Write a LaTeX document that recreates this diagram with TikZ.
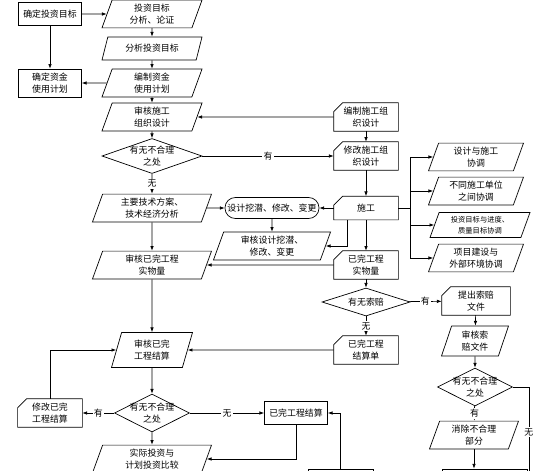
\documentclass[tikz,border=0pt]{standalone}
\usepackage{fontspec}
\newfontfamily\zhfont{Noto Sans CJK SC}
\usepackage{tikz}
\usetikzlibrary{shapes.geometric, arrows.meta, calc}

\begin{document}
\begin{tikzpicture}[
        x=0.03cm, y=-0.03cm, line width=0.6pt,
        every node/.style={font=\zhfont\fontsize{7.6}{10}\selectfont, align=center},
        box/.style={rectangle, draw, minimum width=1.89cm, minimum height=0.69cm},
        io/.style={trapezium, trapezium left angle=70, trapezium right angle=110, trapezium stretches body, draw, minimum width=3cm, minimum height=0.69cm},
        xt/.style={io, minimum width=2.85cm, minimum height=0.7cm},
        card/.style={rectangle, minimum width=1.92cm, minimum height=0.72cm},
        dec/.style={diamond, draw, aspect=2, inner xsep=-2pt, inner ysep=-3pt},
        term/.style={rectangle, rounded corners=0.31cm, draw, minimum width=2.82cm, minimum height=0.63cm, inner xsep=1pt},
        arr/.style={-{Latex[length=4pt, width=3pt]}},
        lbl/.style={fill=white, inner sep=1pt}
    ]
        \useasboundingbox (0,0) rectangle (560,470);
        \clip (0,0) rectangle (560,470);

        % left column
        \node[box] (qdmb) at (50,14) {确定投资目标};
        \node[box] (qdzj) at (50,83) {确定资金\\使用计划};
        \node[card, minimum height=0.69cm] (xgjs) at (50,413) {修改已完\\工程结算};

        % main column
        \node[io] (tzmb) at (152,14) {投资目标\\分析、论证};
        \node[io] (fxmb) at (152,48.5) {分析投资目标};
        \node[io, minimum height=0.72cm] (bzzj) at (152,83) {编制资金\\使用计划};
        \node[io] (shsg) at (152,117) {审核施工\\组织设计};
        \node[dec, minimum width=3cm, minimum height=1.05cm] (pd1) at (152,156) {有无不合理\\之处};
        \node[io, minimum width=3.57cm] (jsfa) at (152,208) {主要技术方案、\\技术经济分析};
        \node[io, minimum width=3.57cm] (shsw) at (152,265) {审核已完工程\\实物量};
        \node[io, minimum width=2.43cm, minimum height=1.05cm] (shjs) at (152,350) {审核已完\\工程结算};
        \node[dec, minimum width=2.25cm, minimum height=1.14cm] (pd2) at (152,413) {有无不合理\\之处};
        \node[io, minimum width=3.57cm, minimum height=0.72cm] (bjtz) at (152,459) {实际投资与\\计划投资比较};

        % middle
        \node[term] (wqbg) at (272,208) {设计挖潜、修改、变更};
        \node[io, minimum width=3.51cm, minimum height=0.66cm] (shwq) at (272,246) {审核设计挖潜、\\修改、变更};
        \node[box] (ywjs) at (296,413) {已完工程结算};
        \node[box, minimum width=1.95cm, minimum height=1.26cm] (xyb1) at (340.5,490) {};

        % construction column
        \node[card, minimum height=0.78cm] (bzsg) at (366,117) {编制施工组\\织设计};
        \node[card, minimum height=0.78cm] (xgsg) at (366,156) {修改施工组\\织设计};
        \node[card, minimum height=0.69cm] (sg) at (366,208) {施工};
        \node[card] (ywsw) at (366,265) {已完工程\\实物量};
        \node[dec, minimum width=2.64cm, minimum height=0.84cm] (pd3) at (366,302) {有无索赔};
        \node[card] (jsd) at (366,350) {已完工程\\结算单};

        % right column
        \node[xt] (xt1) at (476,157) {设计与施工\\协调};
        \node[xt] (xt2) at (476,191) {不同施工单位\\之间协调};
        \node[xt, minimum width=3cm, font=\zhfont\fontsize{6.2}{9}\selectfont] (xt3) at (480,225) {投资目标与进度、\\质量目标协调};
        \node[xt] (xt4) at (476,258) {项目建设与\\外部环境协调};
        \node[card, minimum width=2.04cm] (tcsp) at (476,301) {提出索赔\\文件};
        \node[io, minimum width=2.01cm, minimum height=0.9cm] (shsp) at (475,341) {审核索\\赔文件};
        \node[dec, minimum width=2.25cm, minimum height=1.14cm] (pd4) at (475,387) {有无不合理\\之处};
        \node[io, minimum width=2.67cm] (xcbf) at (474,435) {消除不合理\\部分};
        \node[box, minimum width=2.55cm, minimum height=1.26cm] (xyb2) at (484.5,490) {};

        % cut-corner outlines
        \foreach \c in {xgjs,bzsg,xgsg,sg,ywsw,jsd,tcsp}
            \draw ($(\c.north west)+(9,0)$) -- (\c.north east) -- (\c.south east) -- (\c.south west) -- ($(\c.north west)+(0,9)$) -- cycle;

        \draw[arr] (qdmb) -- (tzmb);
        \draw[arr] (qdmb) -- (qdzj);
        \draw[arr] (tzmb) -- (fxmb);
        \draw[arr] (fxmb) -- (bzzj);
        \draw[arr] (bzzj) -- (qdzj);
        \draw[arr] (bzzj) -- (shsg);
        \draw[arr] (bzsg) -- (shsg);
        \draw[arr] (shsg) -- (pd1);
        \draw[arr] (pd1) -- node[lbl] {有} (xgsg);
        \draw[arr] (bzsg) -- (xgsg);
        \draw[arr] (xgsg) -- (sg);
        \draw[arr] (pd1) -- node[lbl] {无} (jsfa);
        \draw[arr] (jsfa) -- (wqbg);
        \draw[arr] (sg) -- (wqbg);
        \draw[arr] (wqbg) -- (shwq);
        \draw[arr] ($(sg.south)+(-19,0)$) |- (shwq);
        \draw[arr] (sg) -- (ywsw);
        \foreach \t in {xt1,xt2,xt3,xt4}
            \draw[arr] (sg.east) -- ++(12,0) |- (\t);
        \draw[arr] (ywsw) -- (shsw);
        \draw[arr] (jsfa) -- (shsw);
        \draw[arr] (shsw) -- (shjs);
        \draw[arr] (ywsw) -- (pd3);
        \draw[arr] (pd3) -- node[lbl] {有} (tcsp);
        \draw[arr] (pd3) -- node[lbl] {无} (jsd);
        \draw[arr] (jsd) -- (shjs);
        \draw[arr] (xgjs) |- (shjs);
        \draw[arr] (shjs) -- (pd2);
        \draw[arr] (pd2) -- node[lbl] {有} (xgjs);
        \draw[arr] (pd2) -- node[lbl] {无} (ywjs);
        \draw[arr] (pd2) -- (bjtz);
        \draw[arr] (ywjs) |- (bjtz);
        \draw[arr] (xyb1) |- (ywjs);
        \draw[arr] (tcsp) -- (shsp);
        \draw[arr] (shsp) -- (pd4);
        \draw[arr] (pd4) -- node[lbl] {有} (xcbf);
        \draw[arr] (pd4.east) -- ++(16,0) |- node[lbl, pos=0.22] {无} (xyb2.east);
        \draw[arr] (xcbf.south) -- (xcbf.south |- xyb2.north);
    \end{tikzpicture}
\end{document}
